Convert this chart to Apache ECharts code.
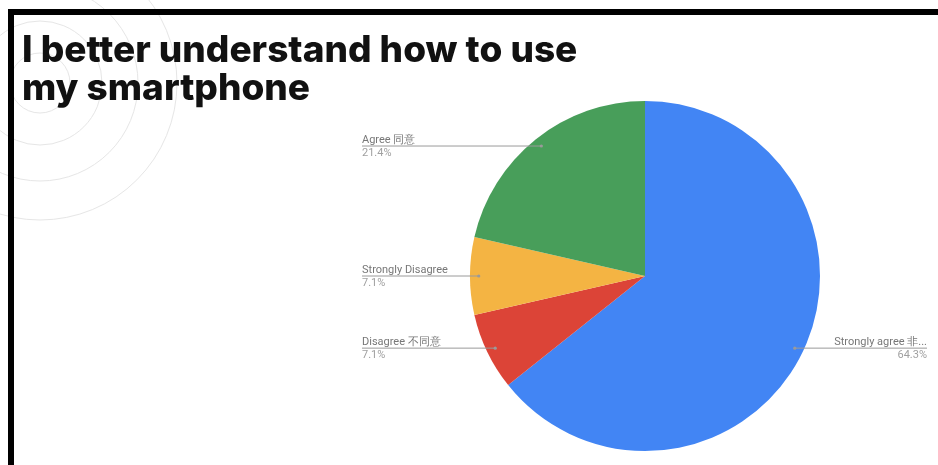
<!DOCTYPE html>
<html>
<head>
<meta charset="utf-8">
<script src="https://cdn.jsdelivr.net/npm/echarts@6/dist/echarts.min.js"></script>
<style>
  html, body { margin: 0; padding: 0; background: #ffffff; }
  #chart { width: 938px; height: 465px; }
</style>
</head>
<body>
<div id="chart"></div>
<script>
// ---- data ----
var categories = ['Strongly agree 非常同意', 'Disagree 不同意', 'Strongly Disagree', 'Agree 同意'];
var values = [9, 1, 1, 3];
var colors = ['#4285f4', '#dc4437', '#f4b443', '#489e5a'];
var titleLines = ['I better understand how to use', 'my smartphone'];

var chart = echarts.init(document.getElementById('chart'), null, { renderer: 'canvas' });

var CENTER = [645, 276];
var RADIUS = 175;
var DOT_R = 0.95;
var total = values.reduce(function (a, b) { return a + b; }, 0);

function midDir(idx) {
  var cum = 0;
  for (var i = 0; i < idx; i++) cum += values[i];
  var f = (cum + values[idx] / 2) / total;
  var th = f * Math.PI * 2;
  return [Math.sin(th), -Math.cos(th)];
}

function shortName(name) {
  try {
    if (echarts.format && echarts.format.truncateText) {
      return echarts.format.truncateText(name, 100, '11px Roboto', '...');
    }
  } catch (e) {}
  return name;
}

var graphics = [
  { type: 'circle', silent: true, z: -1, shape: { cx: 40, cy: 83, r: 30 }, style: { fill: 'none', stroke: '#e6e6e6', lineWidth: 1 } },
  { type: 'circle', silent: true, z: -1, shape: { cx: 40, cy: 83, r: 62 }, style: { fill: 'none', stroke: '#e6e6e6', lineWidth: 1 } },
  { type: 'circle', silent: true, z: -1, shape: { cx: 40, cy: 83, r: 98 }, style: { fill: 'none', stroke: '#e6e6e6', lineWidth: 1 } },
  { type: 'circle', silent: true, z: -1, shape: { cx: 40, cy: 83, r: 137 }, style: { fill: 'none', stroke: '#e6e6e6', lineWidth: 1 } },
  { type: 'rect', silent: true, z: 10, shape: { x: 8, y: 9, width: 930, height: 6 }, style: { fill: '#000000' } },
  { type: 'rect', silent: true, z: 10, shape: { x: 8, y: 9, width: 6, height: 456 }, style: { fill: '#000000' } }
];
// small grey dots where the label lines start (derived from the data angles)
values.forEach(function (v, i) {
  var d = midDir(i);
  graphics.push({
    type: 'circle', silent: true, z: 20,
    shape: { cx: CENTER[0] + d[0] * RADIUS * DOT_R, cy: CENTER[1] + d[1] * RADIUS * DOT_R, r: 1.6 },
    style: { fill: '#9a9a9a' }
  });
});

var pieData = categories.map(function (c, i) { return { name: c, value: values[i] }; });

var option = {
  backgroundColor: '#ffffff',
  animation: false,
  title: {
    text: titleLines.join('\n'),
    left: 22,
    top: 32,
    padding: 0,
    textStyle: {
      fontFamily: 'Inter',
      fontSize: 37,
      fontWeight: 800,
      lineHeight: 38,
      color: '#111111'
    }
  },
  graphic: graphics,
  series: [{
    // filled slices
    type: 'pie',
    z: 2,
    center: CENTER,
    radius: RADIUS,
    startAngle: 90,
    clockwise: true,
    color: colors,
    itemStyle: { borderWidth: 0 },
    emphasis: { disabled: true },
    label: { show: false },
    labelLine: { show: false },
    data: pieData
  }, {
    // transparent overlay carrying the labels and label lines (drawn above slices)
    type: 'pie',
    z: 5,
    silent: true,
    center: CENTER,
    radius: RADIUS,
    startAngle: 90,
    clockwise: true,
    avoidLabelOverlap: false,
    itemStyle: { color: 'rgba(0,0,0,0)', borderWidth: 0 },
    emphasis: { disabled: true },
    label: {
      show: true,
      position: 'outside',
      fontFamily: 'Roboto',
      formatter: function (p) {
        var pct = (p.value / total * 100).toFixed(1) + '%';
        return '{n|' + shortName(p.name) + '}\n{p|' + pct + '}';
      },
      rich: {
        n: { fontFamily: 'Roboto', fontSize: 11, color: '#777777', lineHeight: 13 },
        p: { fontFamily: 'Roboto', fontSize: 11, color: '#a0a0a0', lineHeight: 13 }
      }
    },
    labelLine: {
      show: true,
      length: 10,
      length2: 10,
      lineStyle: { color: '#9a9a9a', width: 1 }
    },
    labelLayout: function (p) {
      var d = midDir(p.dataIndex);
      var sx = CENTER[0] + d[0] * RADIUS * DOT_R;
      var sy = CENTER[1] + d[1] * RADIUS * DOT_R;
      var left = d[0] < 0;
      var ex = left ? 362 : 927;
      return {
        x: ex,
        y: sy + 0.5,
        align: left ? 'left' : 'right',
        verticalAlign: 'middle',
        labelLinePoints: [[sx, sy], [ex, sy]]
      };
    },
    data: pieData
  }]
};

chart.setOption(option);
</script>
</body>
</html>
